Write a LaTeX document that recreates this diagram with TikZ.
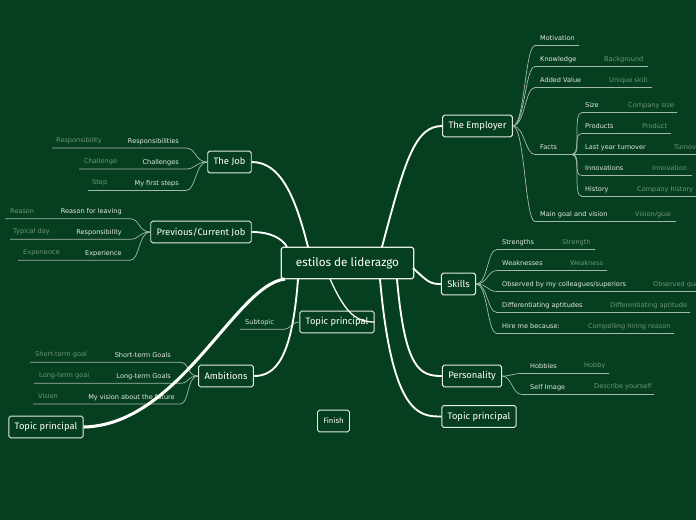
\documentclass[tikz,border=0pt]{standalone}
\usepackage{fontspec}
\setmainfont{DejaVu Sans}
\newfontfamily\topicfont{Fira Sans}
\usepackage{tikz}
\usetikzlibrary{positioning}
\usepackage{xcolor}
\definecolor{bggreen}{HTML}{063E20}
\definecolor{boxline}{HTML}{E4ECE6}
\definecolor{linecol}{HTML}{A3BAAA}
\definecolor{subtext}{HTML}{E2EAE4}
\definecolor{hinttext}{HTML}{6E967B}

\begin{document}
\begin{tikzpicture}[
    x=0.03cm, y=-0.03cm,
    topic/.style={rectangle, draw=boxline, line width=0.8pt, rounded corners=1.5pt, fill=bggreen, text=white, font=\topicfont\fontsize{8}{9}\selectfont, minimum height=18.5pt, inner xsep=5pt},
    rootbox/.style={topic, font=\topicfont\fontsize{10}{11}\selectfont, minimum height=27pt, minimum width=113pt, line width=1pt},
    sub/.style={text=subtext, font=\fontsize{5.6}{6.5}\selectfont, inner sep=0pt, anchor=west},
    hint/.style={sub, text=hinttext},
    sublink/.style={draw=linecol, line width=0.6pt},
    mainlink/.style={draw=white, line width=1.6pt}
]
    \fill[bggreen] (0,0) rectangle (696,520);
    \useasboundingbox (0,0) rectangle (696,520);

    % main topics
    \node[rootbox] (root) at (347.5,263) {estilos de liderazgo};
    \node[topic] (emp) at (477.5,126) {The Employer};
    \node[topic] (skl) at (458.5,284) {Skills};
    \node[topic] (pers) at (472,376) {Personality};
    \node[topic] (rtop) at (479,416.5) {Topic principal};
    \node[topic] (ctop) at (337,322) {Topic principal};
    \node[topic] (job) at (229.5,162) {The Job};
    \node[topic] (prev) at (201,232) {Previous/Current Job};
    \node[topic] (amb) at (226,376) {Ambitions};
    \node[topic] (ltop) at (46,427) {Topic principal};
    \node[topic, font=\topicfont\fontsize{6.5}{7}\selectfont] (fin) at (333.5,421) {Finish};

    % The Employer
    \node[sub] (mot) at (540,38.5) {Motivation};
    \node[sub] (know) at (540,59.5) {Knowledge};
    \node[hint] at (604,59.5) {Background};
    \node[sub] (addv) at (540,80.5) {Added Value};
    \node[hint] at (609,80.5) {Unique skill};
    \node[sub] (facts) at (540,147.5) {Facts};
    \node[sub] (goal) at (540,214.5) {Main goal and vision};
    \node[hint] at (635,214.5) {Vision/goal};
    \draw[sublink] (emp.east) .. controls +(12,0) and +(-10,0) .. (535,45.5) -- (579,45.5);
    \draw[sublink] (emp.east) .. controls +(12,0) and +(-10,0) .. (535,66.5) -- (648,66.5);
    \draw[sublink] (emp.east) .. controls +(12,0) and +(-10,0) .. (535,87.5) -- (652,87.5);
    \draw[sublink] (emp.east) .. controls +(12,0) and +(-10,0) .. (535,154.5) -- (572,154.5);
    \draw[sublink] (emp.east) .. controls +(12,0) and +(-10,0) .. (535,221.5) -- (676,221.5);

    % Facts
    \node[sub] (size) at (585,105.5) {Size};
    \node[hint] at (628,105.5) {Company size};
    \node[sub] (prod) at (585,126.5) {Products};
    \node[hint] at (642,126.5) {Product};
    \node[sub] (turn) at (585,147.5) {Last year turnover};
    \node[hint] at (674,147.5) {Turnover};
    \node[sub] (innov) at (585,168.5) {Innovations};
    \node[hint] at (652,168.5) {Innovation};
    \node[sub] (hist) at (585,189.5) {History};
    \node[hint] at (637,189.5) {Company history};
    \draw[sublink] (572,154.5) .. controls +(10,0) and +(-10,0) .. (582,112.5) -- (677,112.5);
    \draw[sublink] (572,154.5) .. controls +(10,0) and +(-10,0) .. (582,133.5) -- (671,133.5);
    \draw[sublink] (572,154.5) -- (700,154.5);
    \draw[sublink] (572,154.5) .. controls +(10,0) and +(-10,0) .. (582,175.5) -- (692,175.5);
    \draw[sublink] (572,154.5) .. controls +(10,0) and +(-10,0) .. (582,196.5) -- (700,196.5);

    % Skills
    \node[sub] (str) at (502,242.5) {Strengths};
    \node[hint] at (562,242.5) {Strength};
    \node[sub] (weak) at (502,263.5) {Weaknesses};
    \node[hint] at (570,263.5) {Weakness};
    \node[sub] (obs) at (502,284.5) {Observed by my colleagues/superiors};
    \node[hint] at (653,284.5) {Observed quality};
    \node[sub] (diff) at (502,305.5) {Differentiating aptitudes};
    \node[hint] at (610,305.5) {Differentiating aptitude};
    \node[sub] (hire) at (502,326.5) {Hire me because:};
    \node[hint] at (588,326.5) {Compelling hiring reason};
    \draw[sublink] (skl.east) .. controls +(12,0) and +(-10,0) .. (497,249.5) -- (595,249.5);
    \draw[sublink] (skl.east) .. controls +(12,0) and +(-10,0) .. (497,270.5) -- (607,270.5);
    \draw[sublink] (skl.east) .. controls +(12,0) and +(-10,0) .. (497,291.5) -- (700,291.5);
    \draw[sublink] (skl.east) .. controls +(12,0) and +(-10,0) .. (497,312.5) -- (690,312.5);
    \draw[sublink] (skl.east) .. controls +(12,0) and +(-10,0) .. (497,333.5) -- (674,333.5);

    % Personality
    \node[sub] (hob) at (530,366.5) {Hobbies};
    \node[hint] at (584,365.5) {Hobby};
    \node[sub] (self) at (530,387.5) {Self Image};
    \node[hint] at (594,386.5) {Describe yourself};
    \draw[sublink] (pers.east) .. controls +(10,0) and +(-10,0) .. (522,373.5) -- (609,373.5);
    \draw[sublink] (pers.east) .. controls +(10,0) and +(-10,0) .. (522,394.5) -- (654,394.5);

    % The Job
    \node[sub, anchor=east] (resp) at (179,141.5) {Responsibilities};
    \node[hint] at (56,141) {Responsibility};
    \node[sub, anchor=east] (chal) at (179,162.5) {Challenges};
    \node[hint] at (84,162) {Challenge};
    \node[sub, anchor=east] (step) at (179,183.5) {My first steps};
    \node[hint] at (92,183) {Step};
    \draw[sublink] (job.west) .. controls +(-12,0) and +(10,0) .. (186,148) -- (52,148);
    \draw[sublink] (job.west) .. controls +(-12,0) and +(10,0) .. (186,169) -- (79,169);
    \draw[sublink] (job.west) .. controls +(-12,0) and +(10,0) .. (186,190.5) -- (88,190.5);

    % Previous/Current Job
    \node[sub, anchor=east] (reas) at (122,211.5) {Reason for leaving};
    \node[hint] at (10,211) {Reason};
    \node[sub, anchor=east] (presp) at (122,232.5) {Responsibility};
    \node[hint] at (13,232) {Typical day};
    \node[sub, anchor=east] (exper) at (122,253.5) {Experience};
    \node[hint] at (23,253) {Experience};
    \draw[sublink] (prev.west) .. controls +(-12,0) and +(10,0) .. (130,218.7) -- (5,218.7);
    \draw[sublink] (prev.west) .. controls +(-12,0) and +(10,0) .. (130,239.3) -- (10,239.3);
    \draw[sublink] (prev.west) .. controls +(-12,0) and +(10,0) .. (130,260.3) -- (18,260.3);

    % Ambitions
    \node[sub, anchor=east] (short) at (171,355.5) {Short-term Goals};
    \node[hint] at (35,354.5) {Short-term goal};
    \node[sub, anchor=east] (long) at (171,376.5) {Long-term Goals};
    \node[hint] at (39,375.5) {Long-term goal};
    \node[sub, anchor=east] (vis) at (175,397.5) {My vision about the future};
    \node[hint] at (38,396.5) {Vision};
    \draw[sublink] (amb.west) .. controls +(-12,0) and +(10,0) .. (180,362.3) -- (30,362.3);
    \draw[sublink] (amb.west) .. controls +(-12,0) and +(10,0) .. (180,383.3) -- (34,383.3);
    \draw[sublink] (amb.west) .. controls +(-12,0) and +(10,0) .. (180,404) -- (33,404);

    % Topic principal (center)
    \node[sub] (subt) at (245,322.3) {Subtopic};
    \draw[sublink] (ctop.west) .. controls +(-8,0) and +(8,0) .. (283,329.3) -- (240,329.3);

    % main links
    \draw[mainlink] (382,247) .. controls (405,160) and (415,126) .. (emp.west);
    \draw[mainlink] (413,268) .. controls (428,282) and (430,284) .. (skl.west);
    \draw[mainlink] (397,279) .. controls (405,370) and (420,376) .. (pers.west);
    \draw[mainlink] (380,279) .. controls (392,416) and (420,416.5) .. (rtop.west);
    \draw[mainlink, line width=1.1pt] (330,279) .. controls (345,312) and (355,322) .. (ctop.east);
    \draw[mainlink] (308,247) .. controls (295,195) and (280,162) .. (job.east);
    \draw[mainlink] (287,247) .. controls (282,238) and (270,232) .. (prev.east);
    \draw[mainlink] (298,279) .. controls (292,360) and (275,376) .. (amb.east);
    \draw[mainlink, line width=2.6pt] (285,279) .. controls (235,285) and (180,425) .. (ltop.east);
\end{tikzpicture}
\end{document}
